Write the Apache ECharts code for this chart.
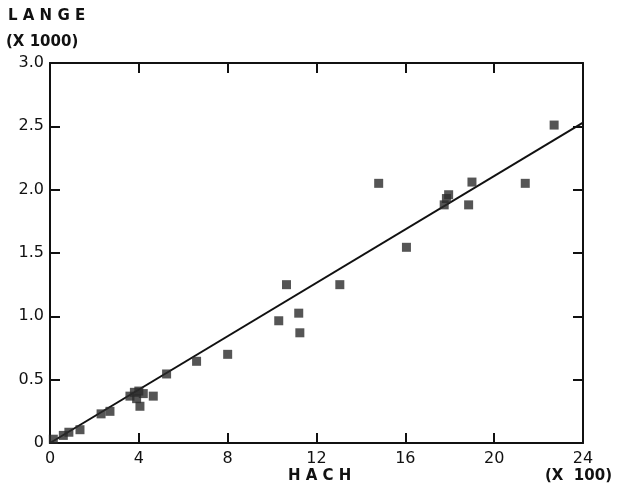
<!DOCTYPE html>
<html>
<head>
<meta charset="utf-8">
<script src="https://cdn.jsdelivr.net/npm/echarts@6/dist/echarts.min.js"></script>
<style>
  html, body { margin: 0; padding: 0; background: #fff; }
  #chart { width: 618px; height: 491px; }
</style>
</head>
<body>
<div id="chart"></div>
<script>
// HACH (x100) vs LANGE (x1000)
var hach = [0.15, 0.6, 0.85, 1.35, 2.3, 2.7, 3.6, 3.8, 4.0, 4.2, 3.9, 4.65, 4.05,
            5.25, 6.6, 8.0, 10.3, 10.65, 11.2, 11.25, 13.05, 14.8, 16.05,
            17.75, 17.85, 17.95, 18.85, 19.0, 21.4, 22.7];
var lange = [0.03, 0.06, 0.085, 0.105, 0.23, 0.25, 0.37, 0.4, 0.41, 0.39, 0.35, 0.37, 0.29,
             0.545, 0.645, 0.7, 0.965, 1.25, 1.025, 0.87, 1.25, 2.05, 1.545,
             1.88, 1.93, 1.96, 1.88, 2.06, 2.05, 2.51];
var fitX = [0, 24];
var fitY = [0, 2.53];

var points = hach.map(function (x, i) { return [x, lange[i]]; });
var fit = fitX.map(function (x, i) { return [x, fitY[i]]; });

var chart = echarts.init(document.getElementById('chart'), null, {renderer: 'canvas'});

var lineCol = '#111';
var labelFont = {color: '#111', fontSize: 16, fontFamily: 'DejaVu Sans'};
var axLine = {show: true, onZero: false, lineStyle: {color: lineCol, width: 2}};
var axTick = {show: true, inside: true, length: 10, lineStyle: {color: lineCol, width: 2}};

chart.setOption({
  animation: false,
  backgroundColor: '#fff',
  grid: {left: 50, right: 35, top: 63, bottom: 48},
  xAxis: [{
    type: 'value', min: 0, max: 24, interval: 4,
    axisLine: axLine, axisTick: axTick,
    axisLabel: Object.assign({margin: 8}, labelFont),
    splitLine: {show: false}
  }, {
    type: 'value', min: 0, max: 24, interval: 4, position: 'top',
    axisLine: axLine, axisTick: axTick,
    axisLabel: {show: false},
    splitLine: {show: false}
  }],
  yAxis: [{
    type: 'value', min: 0, max: 3, interval: 0.5,
    axisLine: axLine, axisTick: axTick,
    axisLabel: Object.assign({
      margin: 6,
      formatter: function (v) { return v === 0 ? '0' : v.toFixed(1); }
    }, labelFont),
    splitLine: {show: false}
  }, {
    type: 'value', min: 0, max: 3, interval: 0.5, position: 'right',
    axisLine: axLine, axisTick: axTick,
    axisLabel: {show: false},
    splitLine: {show: false}
  }],
  graphic: [
    {type: 'text', left: 8, top: 9, style: {text: 'L A N G E', fill: '#111', font: 'bold 15px "DejaVu Sans"'}},
    {type: 'text', left: 6, top: 35, style: {text: '(X 1000)', fill: '#111', font: 'bold 15px "DejaVu Sans"'}},
    {type: 'text', left: 288, top: 469, style: {text: 'H A C H', fill: '#111', font: 'bold 15px "DejaVu Sans"'}},
    {type: 'text', left: 545, top: 469, style: {text: '(X  100)', fill: '#111', font: 'bold 15px "DejaVu Sans"'}}
  ],
  series: [{
    type: 'line',
    data: fit,
    showSymbol: false,
    lineStyle: {color: '#111', width: 2},
    z: 3
  }, {
    type: 'scatter',
    data: points,
    symbol: 'rect',
    symbolSize: 9,
    itemStyle: {color: '#2b2b2b'},
    z: 4
  }]
});
</script>
</body>
</html>
